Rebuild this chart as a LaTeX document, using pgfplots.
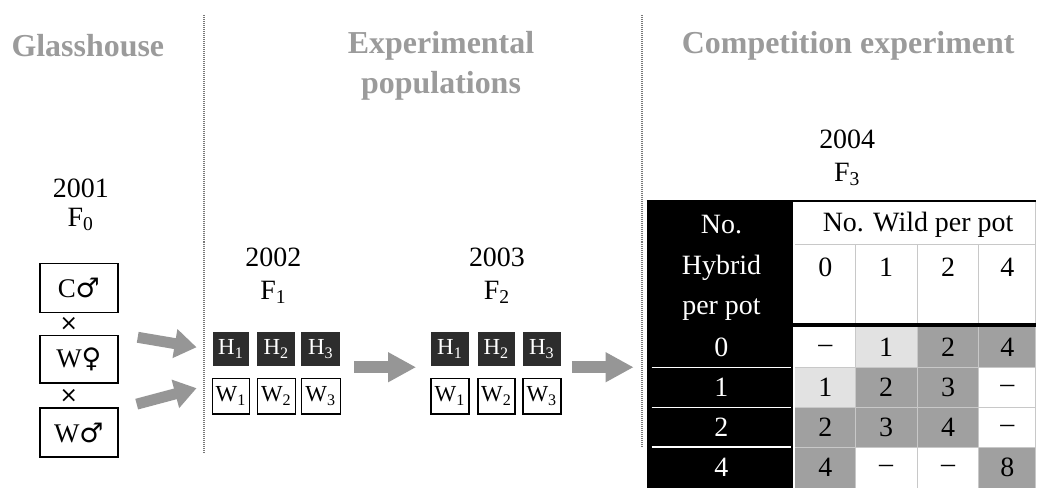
\documentclass[border=0pt]{standalone}
\usepackage{pgfplots}
\pgfplotsset{compat=1.18}
\usepackage{fontspec}
\setmainfont{Liberation Serif}
\newfontfamily\symfont{DejaVu Sans}
\usetikzlibrary{arrows.meta}
\definecolor{ttl}{RGB}{155,155,155}
\definecolor{arr}{RGB}{150,150,150}
\definecolor{dots}{RGB}{120,120,120}
\definecolor{hbox}{RGB}{45,45,45}
\definecolor{lt}{RGB}{226,226,226}
\definecolor{dk}{RGB}{160,160,160}
\definecolor{grid}{RGB}{200,200,200}
\begin{document}
\begin{tikzpicture}
\begin{axis}[scale only axis, width=519pt, height=244.5pt,
  xmin=0, xmax=1038, ymin=0, ymax=489, y dir=reverse,
  hide axis, clip=false]
\path (axis cs:0,0) rectangle (axis cs:1038,489);
% titles
\tikzset{ttlf/.style={font=\fontsize{16}{18}\selectfont\bfseries, text=ttl, inner sep=0pt},
  txt/.style={font=\fontsize{14}{16}\selectfont, inner sep=0pt},
  bx/.style={font=\fontsize{13.5}{15}\selectfont, inner sep=0pt},
  sm/.style={font=\fontsize{11.5}{13}\selectfont, inner sep=0pt}}
\node[ttlf] at (axis cs:88,46) {Glasshouse};
\node[ttlf] at (axis cs:442,46) {Experimental};
\node[ttlf] at (axis cs:442,86) {populations};
\node[ttlf] at (axis cs:850,46) {Competition experiment};
% dotted separators
\draw[dots, line width=1pt, dash pattern=on 0.5pt off 0.5pt] (axis cs:204,15) -- (axis cs:204,455);
\draw[dots, line width=1pt, dash pattern=on 0.5pt off 0.5pt] (axis cs:643,15) -- (axis cs:643,448);
% F0
\node[txt] at (axis cs:81,189) {2001};
\node[txt] at (axis cs:81,220) {F\textsubscript{0}};
\draw[line width=0.8pt] (axis cs:40,264) rectangle (axis cs:118,313);
\draw[line width=0.8pt] (axis cs:40,336) rectangle (axis cs:118,384);
\draw[line width=0.8pt] (axis cs:40,409) rectangle (axis cs:118,458);
\node[bx] at (axis cs:79,289) {C{\symfont ♂}};
\node[bx] at (axis cs:79,360) {W{\symfont ♀}};
\node[bx] at (axis cs:79,434) {W{\symfont ♂}};
\node[font=\symfont\fontsize{11}{13}\selectfont, inner sep=0pt] at (axis cs:69,325) {×};
\node[font=\symfont\fontsize{11}{13}\selectfont, inner sep=0pt] at (axis cs:69,397) {×};
% arrows from F0
\draw[arr, line width=5.5pt, -{Triangle[length=11pt,width=14pt]}] (axis cs:138,338) -- (axis cs:197,348);
\draw[arr, line width=5.5pt, -{Triangle[length=11pt,width=14pt]}] (axis cs:137,405) -- (axis cs:197,389);
% F1
\node[txt] at (axis cs:274,258) {2002};
\node[txt] at (axis cs:274,293) {F\textsubscript{1}};
\fill[hbox] (axis cs:213,333) rectangle (axis cs:250,367);
\fill[hbox] (axis cs:258,333) rectangle (axis cs:296,367);
\fill[hbox] (axis cs:302,333) rectangle (axis cs:341,367);
\node[sm, text=white] at (axis cs:231.5,350) {H\textsubscript{1}};
\node[sm, text=white] at (axis cs:277,350) {H\textsubscript{2}};
\node[sm, text=white] at (axis cs:321.5,350) {H\textsubscript{3}};
\draw[line width=0.7pt] (axis cs:213,379) rectangle (axis cs:250,415);
\draw[line width=0.7pt] (axis cs:258,379) rectangle (axis cs:296,415);
\draw[line width=0.7pt] (axis cs:302,379) rectangle (axis cs:341,415);
\node[sm] at (axis cs:231.5,397) {W\textsubscript{1}};
\node[sm] at (axis cs:277,397) {W\textsubscript{2}};
\node[sm] at (axis cs:321.5,397) {W\textsubscript{3}};
\draw[arr, line width=6pt, -{Triangle[length=14pt,width=14pt]}] (axis cs:355,368) -- (axis cs:417,368);
% F2
\node[txt] at (axis cs:498,258) {2003};
\node[txt] at (axis cs:498,293) {F\textsubscript{2}};
\fill[hbox] (axis cs:432,333) rectangle (axis cs:470,367);
\fill[hbox] (axis cs:479,333) rectangle (axis cs:516,367);
\fill[hbox] (axis cs:524,333) rectangle (axis cs:562,367);
\node[sm, text=white] at (axis cs:451,350) {H\textsubscript{1}};
\node[sm, text=white] at (axis cs:497.5,350) {H\textsubscript{2}};
\node[sm, text=white] at (axis cs:543,350) {H\textsubscript{3}};
\draw[line width=0.7pt] (axis cs:432,379) rectangle (axis cs:470,415);
\draw[line width=0.7pt] (axis cs:479,379) rectangle (axis cs:516,415);
\draw[line width=0.7pt] (axis cs:524,379) rectangle (axis cs:562,415);
\node[sm] at (axis cs:451,397) {W\textsubscript{1}};
\node[sm] at (axis cs:497.5,397) {W\textsubscript{2}};
\node[sm] at (axis cs:543,397) {W\textsubscript{3}};
\draw[arr, line width=6pt, -{Triangle[length=14pt,width=14pt]}] (axis cs:573,368) -- (axis cs:635,368);
% F3
\node[txt] at (axis cs:849,140) {2004};
\node[txt] at (axis cs:849,175) {F\textsubscript{3}};
% table: left black column
\fill[black] (axis cs:648,201) rectangle (axis cs:795,489);
\draw[white, line width=0.6pt] (axis cs:653,368) -- (axis cs:793,368);
\draw[white, line width=0.6pt] (axis cs:653,408) -- (axis cs:793,408);
\draw[white, line width=0.6pt] (axis cs:653,448) -- (axis cs:793,448);
\node[txt, text=white] at (axis cs:723,225) {No.};
\node[txt, text=white] at (axis cs:723,268) {Hybrid};
\node[txt, text=white] at (axis cs:723,310) {per pot};
\node[txt, text=white] at (axis cs:723,348) {0};
\node[txt, text=white] at (axis cs:723,388) {1};
\node[txt, text=white] at (axis cs:723,428) {2};
\node[txt, text=white] at (axis cs:723,468) {4};
% header
\draw[grid, line width=0.5pt] (axis cs:797,245) -- (axis cs:1038,245);
\draw[grid, line width=0.5pt] (axis cs:857,245) -- (axis cs:857,489);
\draw[grid, line width=0.5pt] (axis cs:919,245) -- (axis cs:919,489);
\draw[grid, line width=0.5pt] (axis cs:981,245) -- (axis cs:981,489);
\draw[grid, line width=0.5pt] (axis cs:1037.5,201) -- (axis cs:1037.5,489);
\draw[grid, line width=0.5pt] (axis cs:797,368) -- (axis cs:1038,368);
\draw[grid, line width=0.5pt] (axis cs:797,408) -- (axis cs:1038,408);
\draw[grid, line width=0.5pt] (axis cs:797,448) -- (axis cs:1038,448);
\node[txt] at (axis cs:920,225) {No. Wild per pot};
\node[txt] at (axis cs:827,268) {0};
\node[txt] at (axis cs:888,268) {1};
\node[txt] at (axis cs:950,268) {2};
\node[txt] at (axis cs:1009.5,268) {4};
% cells (row, col shading)
\fill[lt] (axis cs:857.5,328) rectangle (axis cs:918.5,367.5);
\fill[dk] (axis cs:919.5,328) rectangle (axis cs:980.5,367.5);
\fill[dk] (axis cs:981.5,328) rectangle (axis cs:1037,367.5);
\fill[lt] (axis cs:797,368.5) rectangle (axis cs:856.5,407.5);
\fill[dk] (axis cs:857.5,368.5) rectangle (axis cs:918.5,407.5);
\fill[dk] (axis cs:919.5,368.5) rectangle (axis cs:980.5,407.5);
\fill[dk] (axis cs:797,408.5) rectangle (axis cs:856.5,447.5);
\fill[dk] (axis cs:857.5,408.5) rectangle (axis cs:918.5,447.5);
\fill[dk] (axis cs:919.5,408.5) rectangle (axis cs:980.5,447.5);
\fill[dk] (axis cs:797,448.5) rectangle (axis cs:856.5,489);
\fill[dk] (axis cs:981.5,448.5) rectangle (axis cs:1037,489);
% cell labels
\node[txt] at (axis cs:827,350) {–};
\node[txt] at (axis cs:888,348) {1};
\node[txt] at (axis cs:950,348) {2};
\node[txt] at (axis cs:1009.5,348) {4};
\node[txt] at (axis cs:827,388) {1};
\node[txt] at (axis cs:888,388) {2};
\node[txt] at (axis cs:950,388) {3};
\node[txt] at (axis cs:1009.5,390) {–};
\node[txt] at (axis cs:827,428) {2};
\node[txt] at (axis cs:888,428) {3};
\node[txt] at (axis cs:950,428) {4};
\node[txt] at (axis cs:1009.5,430) {–};
\node[txt] at (axis cs:827,468) {4};
\node[txt] at (axis cs:888,470) {–};
\node[txt] at (axis cs:950,470) {–};
\node[txt] at (axis cs:1009.5,468) {8};
% thick lines
\draw[black, line width=1.2pt] (axis cs:648,201.5) -- (axis cs:1038,201.5);
\draw[black, line width=2.2pt] (axis cs:795,325.5) -- (axis cs:1038,325.5);
\end{axis}
\end{tikzpicture}
\end{document}
